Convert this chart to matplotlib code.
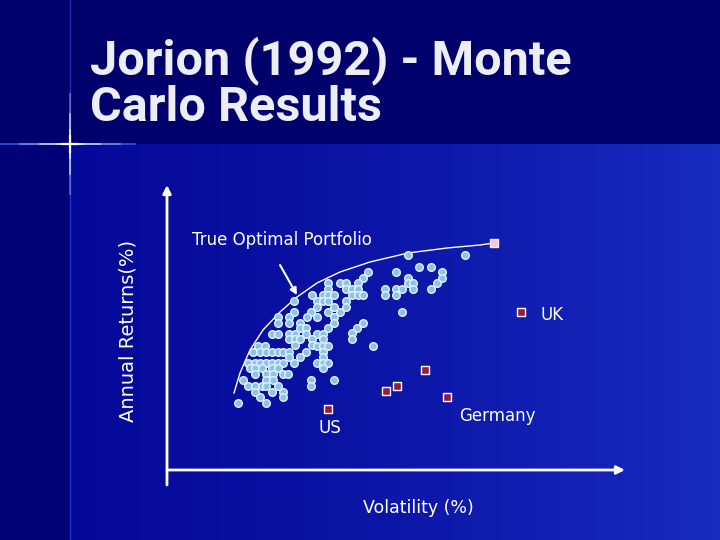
import numpy as np
import matplotlib
matplotlib.use("Agg")
import matplotlib.pyplot as plt

# Simulated portfolios (volatility, return) in arbitrary chart units, one line per return level
sim_vol = [24.1, 29.8,
           25.2, 26.4,
           20.1, 22.9, 27.5,
           27.5, 19.6, 24.1,
           27.0, 16.1, 17.3, 17.9, 19.1, 24.1, 24.6,
           26.4, 16.1, 17.9, 18.5, 19.1, 21.8, 22.9, 23.5, 24.6,
           18.5, 19.1, 19.6, 21.8, 22.9, 14.5, 15.6, 16.1, 16.7,
           12.7, 15.0, 15.6, 16.1, 17.9,
           17.9, 15.0, 16.7,
           12.7, 14.4, 16.1, 17.3, 23.5,
           11.1, 12.2, 14.0, 15.0, 16.7,
           11.1, 12.2, 16.7, 13.3, 19.6,
           13.3, 13.9, 19.0, 16.1,
           18.5,
           10.5, 11.1, 12.2, 12.8, 13.9, 15.0, 15.6,
           18.5, 12.2, 12.8, 13.3, 14.5, 15.6,
           9.1, 9.8, 12.8, 14.5, 15.0, 15.6, 16.1, 20.6,
           8.6, 9.3, 9.9, 10.5, 11.1, 11.6, 12.2, 13.9, 15.6,
           12.2, 13.3, 15.6,
           8.1, 8.8, 9.3, 9.9, 10.5, 11.1, 11.6, 12.7, 15.0, 15.6, 16.1,
           8.3, 8.8, 9.5, 10.5, 11.1, 15.6,
           8.8, 9.9, 10.6, 11.6, 12.1,
           7.6, 9.9, 10.6, 14.4, 16.7,
           14.4, 8.1, 8.8, 9.5, 9.9, 11.1,
           11.6, 8.8, 10.5,
           11.6, 9.3,
           7.1, 9.9]
sim_ret = [21.5, 21.5,
           20.3, 20.3,
           19.8, 19.8, 19.8,
           19.2, 19.2, 19.2,
           18.7, 18.7, 18.7, 18.7, 18.7, 18.7, 18.7,
           18.1, 18.1, 18.1, 18.1, 18.1, 18.1, 18.1, 18.1, 18.1,
           17.5, 17.5, 17.5, 17.5, 17.5, 17.5, 17.5, 17.5, 17.5,
           16.9, 16.9, 16.9, 16.9, 16.9,
           16.3, 16.3, 16.3,
           15.8, 15.8, 15.8, 15.8, 15.8,
           15.3, 15.3, 15.3, 15.3, 15.3,
           14.7, 14.7, 14.7, 14.7, 14.7,
           14.2, 14.2, 14.2, 14.2,
           13.7,
           13.6, 13.6, 13.6, 13.6, 13.6, 13.6, 13.6,
           13.1, 13.1, 13.1, 13.1, 13.1, 13.1,
           12.4, 12.4, 12.5, 12.5, 12.4, 12.4, 12.4, 12.4,
           11.8, 11.8, 11.8, 11.8, 11.8, 11.8, 11.8, 11.8, 11.8,
           11.3, 11.3, 11.3,
           10.7, 10.7, 10.7, 10.7, 10.7, 10.7, 10.7, 10.7, 10.7, 10.7, 10.7,
           10.2, 10.2, 10.2, 10.2, 10.2, 10.2,
           9.6, 9.6, 9.6, 9.6, 9.6,
           9.0, 9.0, 9.0, 9.0, 9.0,
           8.4, 8.4, 8.4, 8.4, 8.4, 8.4,
           7.8, 7.8, 7.8,
           7.3, 7.3,
           6.7, 6.7]

# Country portfolios: UK, four unlabelled, US
country_vol = [35.4, 25.8, 23.0, 21.9, 28.0, 16.1]
country_ret = [15.8, 10.0, 8.4, 7.9, 7.3, 6.1]

# True efficient frontier
frontier_vol = [6.7, 7.3, 8.3, 9.6, 11.3, 13.0, 15.0, 17.3, 20.3, 24.1, 28.0, 31.3, 32.7]
frontier_ret = [7.7, 9.7, 12.0, 14.0, 15.8, 17.3, 18.7, 19.8, 20.8, 21.7, 22.2, 22.5, 22.7]
optimal_vol = 32.7
optimal_ret = 22.7

W, H = 720, 540
fig = plt.figure(figsize=(7.2, 5.4), dpi=100)

# slide background
bg_ax = fig.add_axes([0, 0, 1, 1])
bg_ax.set_axis_off()
xs = np.linspace(0, 1, W)
body = np.zeros((H, W, 3))
left_c = np.array([0x05, 0x08, 0x98]) / 255
right_c = np.array([0x18, 0x2c, 0xc0]) / 255
for ch in range(3):
    body[:, :, ch] = left_c[ch] + (right_c[ch] - left_c[ch]) * xs[None, :] ** 1.5
body[:144, :, :] = np.array([0x00, 0x00, 0x6c]) / 255
body[144:, :70, :] = np.array([0x00, 0x02, 0x78]) / 255
bg_ax.imshow(body, extent=[0, W, H, 0], aspect="auto")

# crosshair glow
bg_ax.plot([70, 70], [0, 540], color="#3050e0", linewidth=1.0, alpha=0.6)
bg_ax.plot([0, 135], [144, 144], color="#3a60f0", linewidth=1.3, alpha=0.8)
for half, alpha in ((50, 0.4), (30, 0.7), (14, 1.0)):
    bg_ax.plot([70 - half, 70 + half], [144, 144], color="#d8e4ff", linewidth=1.2, alpha=alpha)
    bg_ax.plot([70, 70], [144 - half, 144 + half], color="#d8e4ff", linewidth=1.2, alpha=alpha)
bg_ax.plot([62, 78], [144, 144], color="white", linewidth=1.6)
bg_ax.plot([70, 70], [136, 152], color="white", linewidth=1.6)
bg_ax.set_xlim(0, W)
bg_ax.set_ylim(H, 0)

fig.text(90 / W, 1 - 84 / H, "Jorion (1992) - Monte\nCarlo Results", color="#ecedf5",
         fontsize=35, fontweight="bold", ha="left", va="center", linespacing=1.0,
         family=["Roboto", "DejaVu Sans"])

# chart axes: data unit = 10 px
ax = fig.add_axes([167 / W, 70 / H, (625 - 167) / W, (470 - 185) / H])
ax.patch.set_alpha(0)
for side in ("top", "right", "left", "bottom"):
    ax.spines[side].set_visible(False)
ax.set_xticks([])
ax.set_yticks([])
ax.set_xlim(0, 45.8)
ax.set_ylim(0, 28.5)
ax.annotate("", xy=(45.8, 0), xytext=(0, 0),
            arrowprops=dict(arrowstyle="-|>", color="white", lw=2, mutation_scale=12, shrinkA=0, shrinkB=0))
ax.annotate("", xy=(0, 28.5), xytext=(0, -1.5),
            arrowprops=dict(arrowstyle="-|>", color="white", lw=2, mutation_scale=12, shrinkA=0, shrinkB=0),
            annotation_clip=False)

ax.plot(frontier_vol, frontier_ret, color="white", linewidth=1.0)
ax.scatter(sim_vol, sim_ret, s=30, facecolor="#8cc4e8", edgecolor="#e4f2ff", linewidth=1.0, zorder=3)
ax.scatter(country_vol, country_ret, s=30, marker="s", facecolor="#9a1a3a", edgecolor="white",
           linewidth=1.0, zorder=3)
ax.scatter([optimal_vol], [optimal_ret], s=40, marker="s", facecolor="#f4c8d8", edgecolor="#f8e8f0",
           linewidth=1.0, zorder=3)

ax.annotate("", xy=(13.0, 17.5), xytext=(11.3, 20.5),
            arrowprops=dict(arrowstyle="-|>", color="white", lw=1.5, mutation_scale=10, shrinkA=0, shrinkB=0))

txt = dict(color="white", fontsize=12)
ax.text(11.5, 23.0, "True Optimal Portfolio", ha="center", va="center", **txt)
ax.text(37.3, 15.5, "UK", ha="left", va="center", **txt)
ax.text(33.0, 5.4, "Germany", ha="center", va="center", **txt)
ax.text(16.3, 4.2, "US", ha="center", va="center", **txt)
ax.text(25.1, -3.8, "Volatility (%)", ha="center", va="center", fontsize=12.5, color="white")
ax.text(-3.9, 13.9, "Annual Returns(%)", ha="center", va="center", rotation=90,
        fontsize=14, color="white")

fig.savefig("out.png", dpi=100)
